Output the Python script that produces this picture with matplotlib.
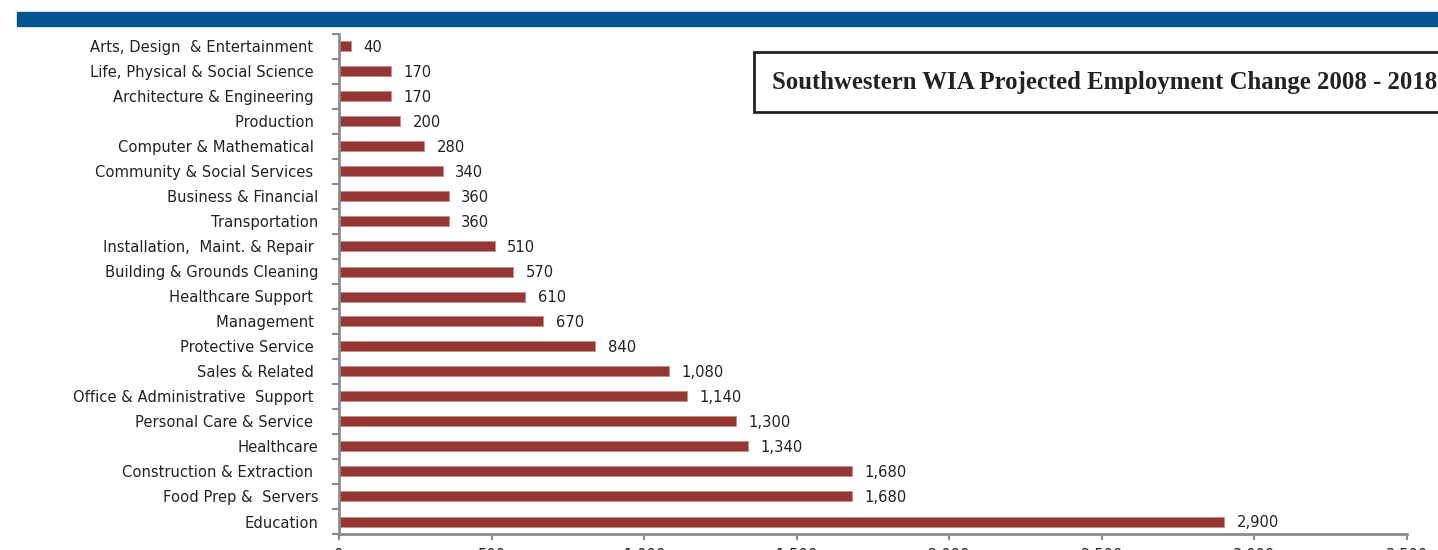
import matplotlib.pyplot as plt
from matplotlib.patches import Rectangle
from matplotlib.ticker import FixedLocator

# occupations, top to bottom as in the chart
categories = ["Arts, Design  & Entertainment ", "Life, Physical & Social Science ",
              "Architecture & Engineering ", "Production ", "Computer & Mathematical ",
              "Community & Social Services ", "Business & Financial", "Transportation",
              "Installation,  Maint. & Repair ", "Building & Grounds Cleaning",
              "Healthcare Support ", "Management ", "Protective Service ",
              "Sales & Related ", "Office & Administrative  Support ",
              "Personal Care & Service ", "Healthcare", "Construction & Extraction ",
              "Food Prep &  Servers", "Education"]
change = [40, 170, 170, 200, 280, 340, 360, 360, 510, 570,
          610, 670, 840, 1080, 1140, 1300, 1340, 1680, 1680, 2900]
xticks = [0, 500, 1000, 1500, 2000, 2500, 3000, 3500]

plt.rcParams["font.family"] = ["DejaVu Sans"]

bar_color = "#953735"
axis_gray = "#8c8c8c"
txt_color = "#222222"
fs = 10.6

fig = plt.figure(figsize=(14.38, 5.5), dpi=100)
ax = fig.add_axes([339 / 1438, 16 / 550, (1407 - 339) / 1438, 500 / 550])

n = len(categories)
ypos = list(range(n))
ax.barh(ypos, change, height=0.4, color=bar_color, edgecolor="#c98b8a", linewidth=0.6)
ax.set_ylim(n - 0.5, -0.5)
ax.set_xlim(0, 3500)

for y, v in zip(ypos, change):
    ax.annotate(f"{v:,}", xy=(v, y + 0.05), xytext=(9, 0), textcoords="offset points",
                ha="left", va="center", fontsize=fs, color=txt_color)

ax.set_yticks(ypos)
ax.set_yticklabels(categories, fontsize=fs, color=txt_color)
ax.yaxis.set_minor_locator(FixedLocator([i - 0.5 for i in range(n + 1)]))
ax.tick_params(axis="y", which="major", length=0, pad=15)
ax.tick_params(axis="y", which="minor", length=5, width=1.5, color=axis_gray)

ax.set_xticks(xticks)
ax.set_xticklabels([f"{t:,}" for t in xticks], fontsize=fs, color=txt_color)
ax.tick_params(axis="x", length=4, width=1.5, color=axis_gray, pad=6)

for side in ["top", "right"]:
    ax.spines[side].set_visible(False)
for side in ["left", "bottom"]:
    ax.spines[side].set_color(axis_gray)
    ax.spines[side].set_linewidth(2)

# blue band across the top
fig.patches.append(Rectangle((17 / 1438, (550 - 26) / 550), 1 - 17 / 1438, 14 / 550,
                             transform=fig.transFigure, color="#03558f", zorder=0))

# title box
fig.patches.append(Rectangle((754 / 1438, (550 - 112) / 550), 0.5, 60 / 550,
                             transform=fig.transFigure, facecolor="white",
                             edgecolor=txt_color, linewidth=2, zorder=3))
fig.text(772 / 1438, (550 - 82) / 550,
         "Southwestern WIA Projected Employment Change 2008 - 2018",
         fontsize=17.8, fontweight="bold", family="Liberation Serif",
         ha="left", va="center", color=txt_color, zorder=4)

fig.savefig("out.png", dpi=100)
